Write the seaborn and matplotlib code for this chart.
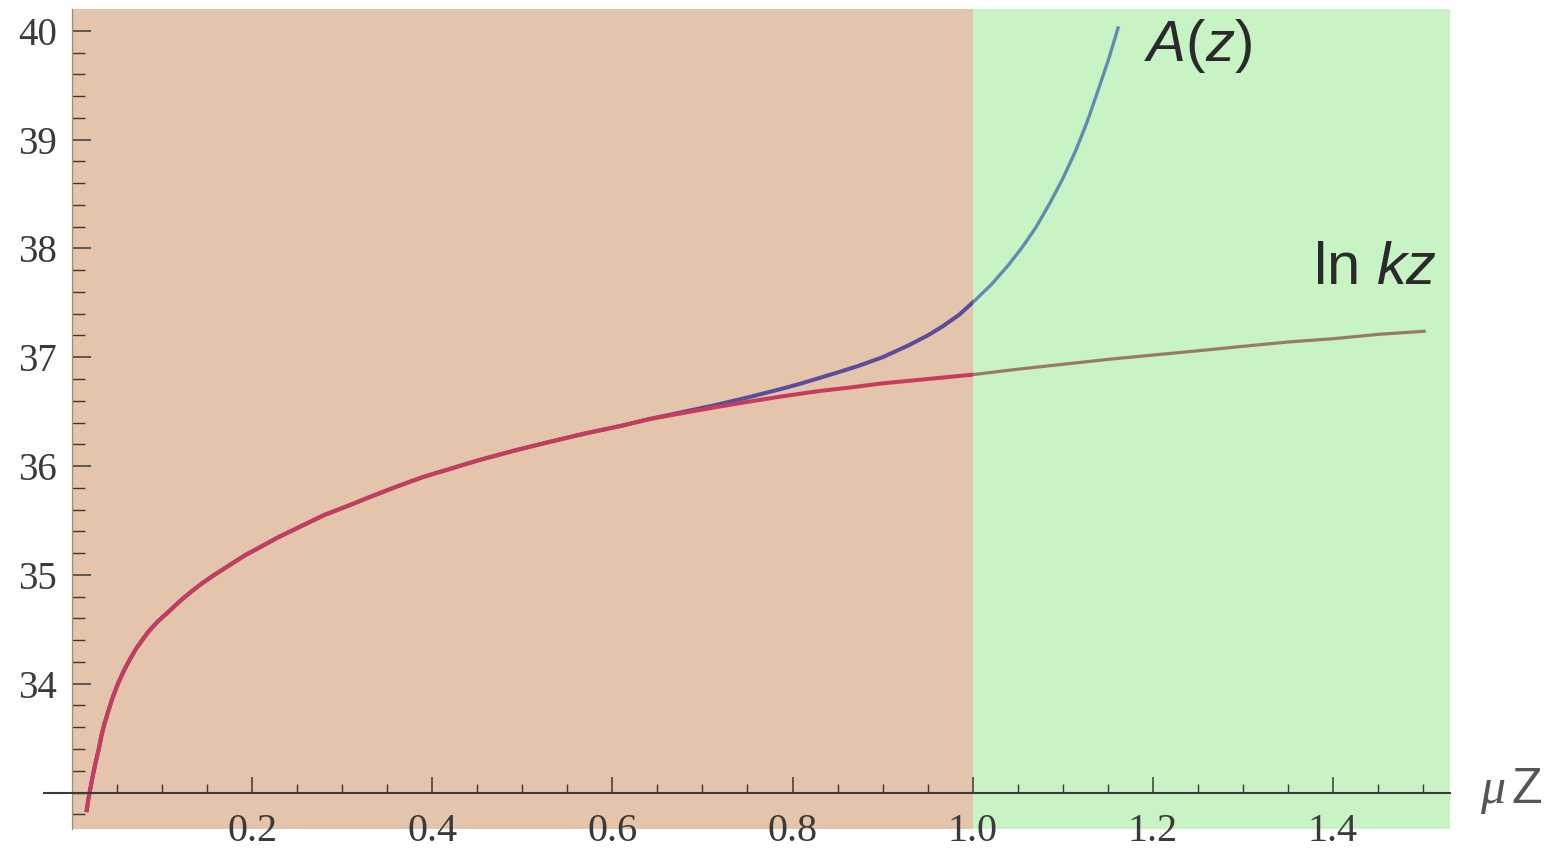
import numpy as np
import matplotlib
matplotlib.use("Agg")
import matplotlib.pyplot as plt
from matplotlib.patches import Rectangle
import seaborn as sns

# ---------------- data ----------------
lnkz_x = [0.016, 0.018, 0.020, 0.023, 0.026, 0.030, 0.0326, 0.036, 0.040, 0.045,
          0.051, 0.057, 0.064, 0.071, 0.077, 0.085, 0.095, 0.107, 0.120, 0.133,
          0.144, 0.158, 0.175, 0.192, 0.210, 0.230, 0.255, 0.280, 0.305, 0.329,
          0.360, 0.390, 0.418, 0.450, 0.490, 0.529, 0.570, 0.610, 0.640, 0.680,
          0.714, 0.750, 0.788, 0.830, 0.862, 0.900, 0.950, 1.000, 1.050, 1.100,
          1.150, 1.200, 1.251, 1.300, 1.350, 1.400, 1.450, 1.503]
lnkz_y = [32.82, 32.93, 33.02, 33.15, 33.27, 33.41, 33.52, 33.63, 33.74, 33.87,
          34.00, 34.11, 34.22, 34.32, 34.39, 34.48, 34.57, 34.66, 34.76, 34.85,
          34.92, 35.00, 35.09, 35.18, 35.26, 35.35, 35.45, 35.55, 35.63, 35.71,
          35.81, 35.90, 35.97, 36.05, 36.14, 36.22, 36.30, 36.37, 36.43, 36.49,
          36.54, 36.59, 36.64, 36.69, 36.72, 36.76, 36.80, 36.84, 36.89, 36.935,
          36.98, 37.02, 37.06, 37.10, 37.14, 37.17, 37.21, 37.24]

az_x = [0.016, 0.018, 0.020, 0.023, 0.026, 0.030, 0.0326, 0.036, 0.040, 0.045,
        0.051, 0.057, 0.064, 0.071, 0.077, 0.085, 0.095, 0.107, 0.120, 0.133,
        0.144, 0.158, 0.175, 0.192, 0.210, 0.230, 0.255, 0.280, 0.305, 0.329,
        0.360, 0.390, 0.418, 0.450, 0.490, 0.529, 0.570, 0.610, 0.640, 0.680,
        0.714, 0.750, 0.788, 0.810, 0.830, 0.850, 0.873, 0.900, 0.929, 0.950,
        0.966, 0.985, 1.001, 1.021, 1.040, 1.055, 1.070, 1.086, 1.100, 1.114,
        1.127, 1.140, 1.151, 1.162]
az_y = [32.82, 32.93, 33.02, 33.15, 33.27, 33.41, 33.52, 33.63, 33.74, 33.87,
        34.00, 34.11, 34.22, 34.32, 34.39, 34.48, 34.57, 34.66, 34.76, 34.85,
        34.92, 35.00, 35.09, 35.18, 35.26, 35.35, 35.45, 35.55, 35.63, 35.71,
        35.81, 35.90, 35.97, 36.05, 36.14, 36.22, 36.30, 36.37, 36.43, 36.50,
        36.56, 36.63, 36.71, 36.76, 36.81, 36.86, 36.92, 37.00, 37.11, 37.20,
        37.28, 37.39, 37.51, 37.67, 37.85, 38.01, 38.19, 38.42, 38.64, 38.89,
        39.16, 39.47, 39.74, 40.04]

x_major = [0.2, 0.4, 0.6, 0.8, 1.0, 1.2, 1.4]
x_minor = [0.05, 0.1, 0.15, 0.25, 0.3, 0.35, 0.45, 0.5, 0.55, 0.65, 0.7, 0.75,
           0.85, 0.9, 0.95, 1.05, 1.1, 1.15, 1.25, 1.3, 1.35, 1.45, 1.5]
y_major = [34, 35, 36, 37, 38, 39, 40]
y_minor = [32.8, 33.0, 33.2, 33.4, 33.6, 33.8, 34.2, 34.4, 34.6, 34.8, 35.2, 35.4,
           35.6, 35.8, 36.2, 36.4, 36.6, 36.8, 37.2, 37.4, 37.6, 37.8, 38.2, 38.4,
           38.6, 38.8, 39.2, 39.4, 39.6, 39.8]

region_edges = [0.0, 1.0, 1.53]

# ---------------- style ----------------
sns.set_theme(style="white")
plt.rcParams["font.family"] = ["Liberation Serif", "DejaVu Sans"]
plt.rcParams["mathtext.fontset"] = "custom"
plt.rcParams["mathtext.rm"] = "Liberation Sans"
plt.rcParams["mathtext.it"] = "Liberation Sans:italic"

TAN = "#E4C4AB"
GREEN = "#C8F3C5"

fig = plt.figure(figsize=(15.59, 8.5), dpi=100)
fig.patch.set_facecolor("white")
ax = fig.add_axes([72 / 1559, 21 / 850, 1378 / 1559, 820 / 850])
ax.set_facecolor("white")

ax.set_xlim(0.0, 1.530)
ax.set_ylim(32.665, 40.20)

ax.axvspan(region_edges[0], region_edges[1], color=TAN, lw=0, zorder=0)
ax.axvspan(region_edges[1], region_edges[2], color=GREEN, lw=0, zorder=0)


def draw(xs, ys, c_left, c_right, lw_left, lw_right):
    parts = [(c_left, lw_left, region_edges[0] - 0.1, region_edges[1]),
             (c_right, lw_right, region_edges[1], region_edges[2] + 0.1)]
    for col, lw, x0, x1 in parts:
        sns.lineplot(x=xs, y=ys, color=col, lw=lw, ax=ax, sort=False,
                     estimator=None, zorder=2)
        line = ax.lines[-1]
        rect = Rectangle((x0, 30), x1 - x0, 15, transform=ax.transData)
        line.set_clip_path(rect)
        line.set_solid_capstyle("butt")
        line.set_solid_joinstyle("round")


draw(az_x, az_y, "#5B4C9C", "#5F8DAE", 2.9, 2.4)
draw(lnkz_x, lnkz_y, "#C63C5C", "#9A7A62", 2.9, 2.3)

# ---------------- axes ----------------
for s in ["top", "right"]:
    ax.spines[s].set_visible(False)
ax.spines["left"].set_color("#9c8c7c")
ax.spines["left"].set_linewidth(0.9)
ax.spines["bottom"].set_position(("data", 33))
ax.spines["bottom"].set_color("#3a3a3a")
ax.spines["bottom"].set_linewidth(1.5)
ax.spines["bottom"].set_bounds(-0.031, 1.530)

ax.set_xticks(x_major)
ax.set_xticklabels([f"{v:.1f}" for v in x_major])
ax.set_xticks(x_minor, minor=True)
ax.set_yticks(y_major)
ax.set_yticklabels([f"{v:d}" for v in y_major])
ax.set_yticks(y_minor, minor=True)

ax.tick_params(axis="x", which="both", bottom=True, top=False)
ax.tick_params(axis="y", which="both", left=True, right=False)
ax.tick_params(axis="x", which="major", direction="in", length=11.5, width=1.1,
               color="#3a3a3a", pad=15, labelsize=29, labelcolor="#3a3a3a")
ax.tick_params(axis="x", which="minor", direction="in", length=6.5, width=1.0,
               color="#3a3a3a")
ax.tick_params(axis="y", which="major", direction="in", length=14, width=1.1,
               color="#3a3a3a", pad=11, labelsize=28, labelcolor="#3a3a3a")
ax.tick_params(axis="y", which="minor", direction="in", length=9.5, width=1.0,
               color="#3a3a3a")
ax.grid(False)
ax.set_xlabel("")
ax.set_ylabel("")

# ---------------- labels ----------------
ax.text(1.19, 39.86, r"$A(z)$", fontsize=42, color="#2a2a2a",
        ha="left", va="center", zorder=5)
ax.text(1.378, 37.80, r"$\ln\,kz$", fontsize=43, color="#2a2a2a",
        ha="left", va="center", zorder=5)

fig.text(1480 / 1559, 1 - 803 / 850, "μ", fontsize=36, family="Liberation Serif",
         style="italic", color="#555555", ha="left", va="baseline")
fig.text(1511 / 1559, 1 - 803 / 850, "Z", fontsize=36, family="Liberation Sans",
         color="#555555", ha="left", va="baseline")

fig.savefig("out.png", dpi=100)
